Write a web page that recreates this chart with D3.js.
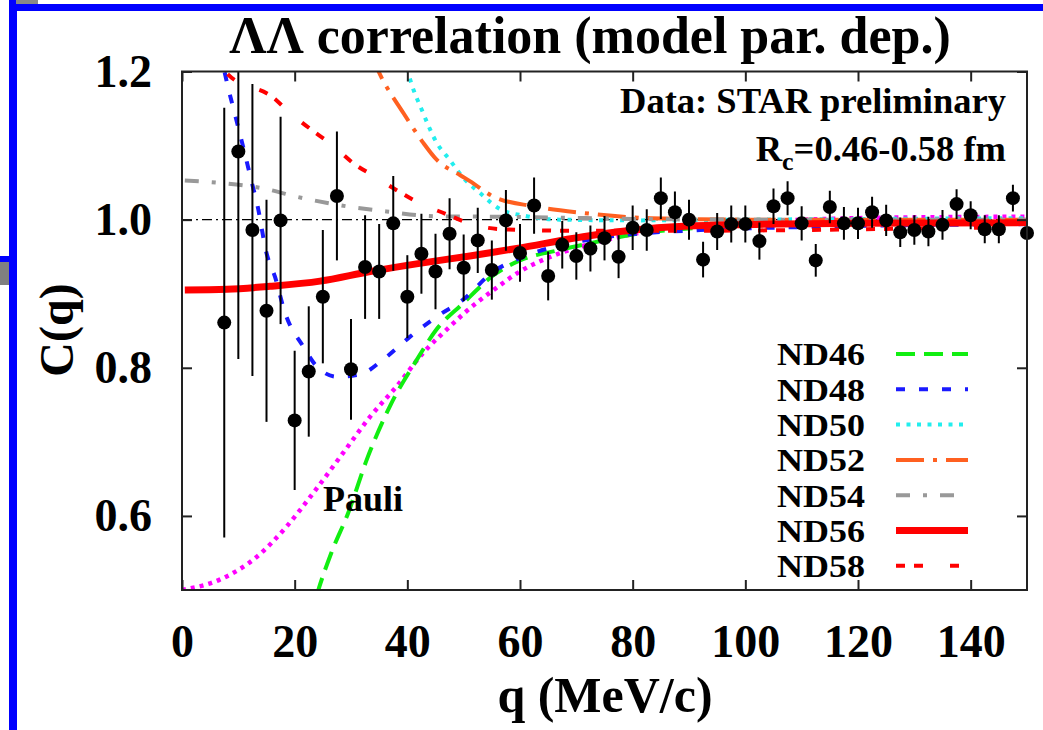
<!DOCTYPE html>
<html><head><meta charset="utf-8">
<script src="https://cdn.jsdelivr.net/npm/d3@7"></script>
<style>
body{margin:0;background:#fff}
svg{display:block}
text{font-family:"Liberation Serif","Times New Roman",serif;font-weight:bold;fill:#000}
</style>
</head><body>
<svg id="chart" width="1043" height="730"></svg>
<script>
// ---- data ----
const qData = [7.5,10,12.5,15,17.5,20,22.5,25,27.5,30,32.5,35,37.5,40,42.5,45,47.5,50,52.5,55,57.5,60,62.5,65,67.5,70,72.5,75,77.5,80,82.5,85,87.5,90,92.5,95,97.5,100,102.5,105,107.5,110,112.5,115,117.5,120,122.5,125,127.5,130,132.5,135,137.5,140,142.5,145,147.5,150];
const cData = [0.861,1.092,0.986,0.877,0.999,0.729,0.795,0.896,1.032,0.798,0.936,0.930,0.995,0.896,0.954,0.930,0.981,0.935,0.972,0.932,0.999,0.955,1.019,0.924,0.966,0.951,0.961,0.975,0.950,0.989,0.986,1.029,1.010,1.000,0.946,0.984,0.994,0.994,0.971,1.018,1.029,0.995,0.945,1.017,0.995,0.995,1.010,0.999,0.983,0.986,0.984,0.993,1.021,1.006,0.987,0.987,1.029,0.982];
const cErr = [0.29,0.28,0.197,0.15,0.14,0.094,0.088,0.09,0.087,0.068,0.07,0.064,0.064,0.056,0.054,0.051,0.048,0.045,0.044,0.04,0.041,0.039,0.038,0.033,0.032,0.032,0.031,0.03,0.029,0.03,0.028,0.028,0.028,0.027,0.024,0.025,0.025,0.025,0.025,0.024,0.023,0.023,0.022,0.022,0.022,0.021,0.021,0.021,0.02,0.02,0.02,0.02,0.02,0.019,0.019,0.019,0.018,0.018];

const nd46 = [[22.5,0.455],[24.2,0.5],[26.5,0.55],[29.5,0.604],[32.8,0.676],[36.9,0.748],[41.7,0.811],[45,0.850],[49.9,0.887],[55.3,0.925],[60,0.945],[67,0.959],[72.4,0.968],[80,0.980],[90,0.988],[100,0.992],[120,0.995],[150,0.997]];
const nd48 = [[6,1.26],[7.6,1.198],[9.7,1.133],[10.6,1.106],[12.4,1.050],[13.4,1.019],[15.0,0.955],[16.5,0.923],[18.3,0.874],[21.5,0.829],[23.9,0.802],[27.5,0.788],[31.6,0.791],[35.7,0.811],[40.5,0.842],[45.2,0.869],[49.9,0.892],[55.3,0.930],[60,0.948],[65.4,0.962],[75,0.976],[92,0.986],[110,0.990],[150,0.994]];
const nd50 = [[38.5,1.26],[40.2,1.198],[42.8,1.144],[45.2,1.104],[47.6,1.080],[50,1.056],[52.9,1.036],[56.5,1.014],[61,1.005],[67,1.0],[80,0.999],[100,1.0],[150,1.002]];
const nd52 = [[33.5,1.225],[34.9,1.2],[39.3,1.144],[42.8,1.104],[45.2,1.081],[49.4,1.060],[51.1,1.052],[55.3,1.031],[62.4,1.018],[71.2,1.009],[83.1,1.002],[100,1.0],[150,1.0]];
const nd54 = [[0.5,1.053],[6.7,1.0495],[13.8,1.043],[21.5,1.029],[29.2,1.018],[36.3,1.011],[45.2,1.0045],[55,1.004],[65,1.003],[80,1.001],[100,1.0],[150,1.0]];
const nd56 = [[0.5,0.905],[8,0.906],[15.6,0.910],[24.5,0.917],[33.4,0.930],[42.2,0.941],[51.1,0.951],[59.4,0.961],[71.2,0.977],[83.1,0.988],[97.9,0.993],[120,0.995],[150,0.996]];
const nd58 = [[6,1.215],[7.9,1.198],[16.5,1.163],[18.6,1.148],[23.4,1.119],[26.3,1.103],[30.8,1.074],[33.8,1.060],[38.7,1.037],[41.7,1.024],[47.4,1.006],[50.5,0.996],[57,0.987],[70,0.985],[90,0.985],[110,0.986],[130,0.988],[150,0.990]];
const pauli = [[0,0.5],[6.7,0.514],[13.3,0.545],[18.6,0.586],[23.3,0.631],[28.6,0.685],[33.4,0.734],[38.1,0.775],[42.8,0.820],[47.6,0.856],[50,0.873],[55.3,0.905],[60,0.930],[66.5,0.953],[75,0.972],[85,0.987],[100,0.996],[120,1.002],[150,1.004]];

const seriesNames = ["ND46","ND48","ND50","ND52","ND54","ND56","ND58"];
const seriesData = [nd46, nd48, nd50, nd52, nd54, nd56, nd58];

const xTicks = [0,20,40,60,80,100,120,140];
const yTicks = [0.6,0.8,1.0,1.2];
const yTickLabels = ["0.6","0.8","1.0","1.2"];

// ---- styles ----
const seriesStyle = [
  {color:"#11ee11", width:4, dash:"19,9"},
  {color:"#1a1aff", width:4, dash:"9,14"},
  {color:"#22eeee", width:4, dash:"4,6.5"},
  {color:"#ff6020", width:4, dash:"28,9,4,9"},
  {color:"#999999", width:4, dash:"14,13,4,13"},
  {color:"#ff0000", width:7, dash:null},
  {color:"#ff0000", width:4, dash:"9,9,9,27"}
];

const svg = d3.select("#chart");
const W = 1043, H = 730;
const pL = 182, pR = 1027, pT = 71.5, pB = 590;

// decorative frame (slide border)
svg.append("rect").attr("x",17).attr("y",4).attr("width",W-17).attr("height",7).attr("fill","#0000ff");
svg.append("rect").attr("x",9).attr("y",0).attr("width",8).attr("height",H).attr("fill","#0000ff");
svg.append("rect").attr("x",16).attr("y",0).attr("width",22).attr("height",4).attr("fill","#888");
svg.append("rect").attr("x",0).attr("y",256).attr("width",9).attr("height",6).attr("fill","#0000ff");
svg.append("rect").attr("x",0).attr("y",262).attr("width",9).attr("height",23).attr("fill","#808080");

const x = d3.scaleLinear().domain([0,150]).range([pL,pR]);
const y = d3.scaleLinear().domain([0.5,1.2]).range([pB,pT]);

svg.append("clipPath").attr("id","clip").append("rect")
  .attr("x",pL).attr("y",pT).attr("width",pR-pL).attr("height",pB-pT);

const plot = svg.append("g").attr("clip-path","url(#clip)");

// reference line at 1
plot.append("line").attr("x1",x(0)).attr("x2",x(150)).attr("y1",y(1)).attr("y2",y(1))
  .attr("stroke","#000").attr("stroke-width",1.2).attr("stroke-dasharray","10,4,2,4");

const line = d3.line().x(d=>x(d[0])).y(d=>y(d[1])).curve(d3.curveMonotoneX);

// Pauli curve
plot.append("path").attr("d",line(pauli)).attr("fill","none")
  .attr("stroke","#ff00ff").attr("stroke-width",4.5).attr("stroke-dasharray","4,5");

seriesData.forEach((s,i)=>{
  const st = seriesStyle[i];
  plot.append("path").attr("d",line(s)).attr("fill","none")
    .attr("stroke",st.color).attr("stroke-width",st.width)
    .attr("stroke-dasharray",st.dash);
});

// error bars
plot.selectAll("line.err").data(qData).enter().append("line").attr("class","err")
  .attr("x1",d=>x(d)).attr("x2",d=>x(d))
  .attr("y1",(d,i)=>y(cData[i]+cErr[i])).attr("y2",(d,i)=>y(cData[i]-cErr[i]))
  .attr("stroke","#000").attr("stroke-width",2);

// points
svg.append("g").selectAll("circle").data(qData).enter().append("circle")
  .attr("cx",d=>x(d)).attr("cy",(d,i)=>y(cData[i])).attr("r",7).attr("fill","#000");

// frame
svg.append("rect").attr("x",pL).attr("y",pT).attr("width",pR-pL).attr("height",pB-pT)
  .attr("fill","none").attr("stroke","#222").attr("stroke-width",2);

// ticks (inside)
const tl = 10;
const gAxB = svg.append("g").attr("transform",`translate(0,${pB})`)
  .call(d3.axisBottom(x).tickValues(xTicks).tickSizeInner(-tl).tickSizeOuter(0).tickPadding(34).tickFormat(d3.format("d")));
const gAxT = svg.append("g").attr("transform",`translate(0,${pT})`)
  .call(d3.axisTop(x).tickValues(xTicks).tickSizeInner(-tl).tickSizeOuter(0).tickFormat(""));
const gAxL = svg.append("g").attr("transform",`translate(${pL},0)`)
  .call(d3.axisLeft(y).tickValues(yTicks).tickSizeInner(-tl).tickSizeOuter(0).tickPadding(30).tickFormat((d,i)=>yTickLabels[i]));
const gAxR = svg.append("g").attr("transform",`translate(${pR},0)`)
  .call(d3.axisRight(y).tickValues(yTicks).tickSizeInner(-tl).tickSizeOuter(0).tickFormat(""));
[gAxB,gAxT,gAxL,gAxR].forEach(g=>{
  g.select(".domain").remove();
  g.selectAll(".tick line").attr("stroke","#222").attr("stroke-width",2);
  g.selectAll("text").attr("font-size",46).attr("font-family","'Liberation Serif','Times New Roman',serif").attr("font-weight","bold").attr("fill","#000");
});
gAxB.selectAll("text").attr("dy","0.71em");

// title & axis labels
svg.append("text").attr("x",590).attr("y",53).attr("text-anchor","middle").attr("font-size",52)
  .text("\u039B\u039B correlation (model par. dep.)");
svg.append("text").attr("x",605).attr("y",712).attr("text-anchor","middle").attr("font-size",50)
  .text("q (MeV/c)");
svg.append("text").attr("transform","translate(73,330) rotate(-90)").attr("text-anchor","middle").attr("font-size",48)
  .text("C(q)");

// annotations
svg.append("text").attr("x",1006).attr("y",113).attr("text-anchor","end").attr("font-size",36.5)
  .text("Data: STAR preliminary");
const rc = svg.append("text").attr("x",1006).attr("y",161).attr("text-anchor","end").attr("font-size",36.5);
rc.append("tspan").text("R");
rc.append("tspan").attr("font-size",26).attr("dy",9).text("c");
rc.append("tspan").attr("dy",-9).text("=0.46-0.58 fm");
svg.append("text").attr("x",323).attr("y",511).attr("font-size",36).text("Pauli");

// legend
const legY0 = 354, legDy = 35.3;
seriesNames.forEach((n,i)=>{
  const yy = legY0 + i*legDy;
  svg.append("text").attr("x",865).attr("y",yy).attr("dy","0.36em").attr("text-anchor","end")
    .attr("font-size",31.5).attr("textLength",88).attr("lengthAdjust","spacingAndGlyphs").text(n);
  const st = seriesStyle[i];
  svg.append("line").attr("x1",896).attr("x2", i===4 ? 956 : 968).attr("y1",yy).attr("y2",yy)
    .attr("stroke",st.color).attr("stroke-width",st.width).attr("stroke-dasharray",st.dash);
});
</script>
</body></html>
